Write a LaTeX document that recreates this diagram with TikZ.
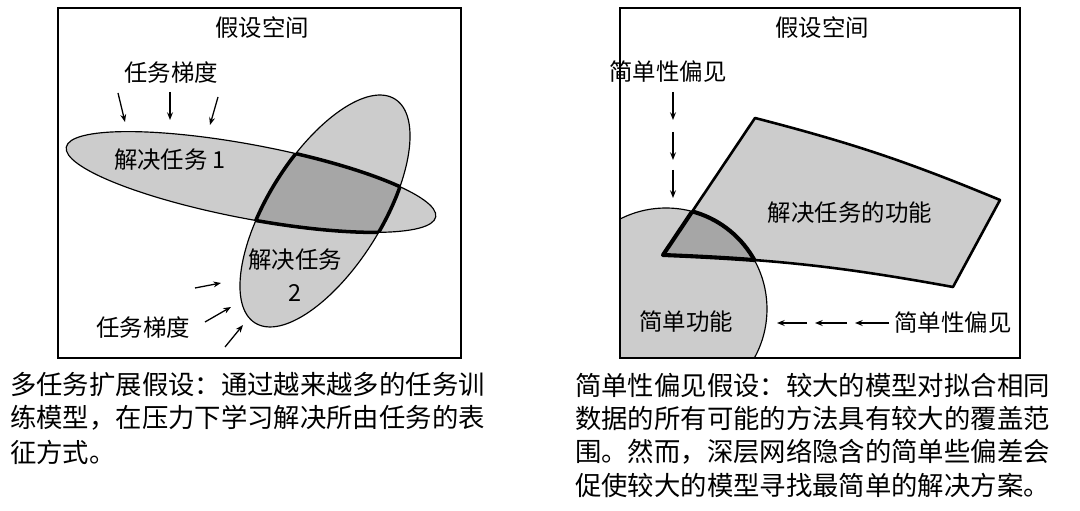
\documentclass[tikz,border=0pt]{standalone}
\usepackage{fontspec}
\setmainfont{Noto Sans CJK SC}
\usetikzlibrary{arrows.meta}
\begin{document}
\begin{tikzpicture}[x=0.03cm,y=0.03cm,
  lbl/.style={font=\fontsize{20}{24}\selectfont,inner sep=0pt},
  captxt/.style={font=\fontsize{22.5}{27}\selectfont,inner sep=0pt,anchor=west},
  arr/.style={-{Stealth[length=6.5pt,width=5pt]},line width=1.1pt},
  frame/.style={draw,line width=1.2pt}]
\useasboundingbox (0,0) rectangle (1080,511);
\def\ellA{(251,329) ellipse [x radius=188,y radius=37,rotate=-10.7]}
\def\ellB{(325,300) ellipse [x radius=132,y radius=57,rotate=58]}
\def\polyP{(755,393) to[bend left=4] (1000,311) -- (953,224) to[bend right=4] (663,256) -- cycle}
\def\circP{(666,202) circle [radius=101]}
% left panel
\draw[frame] (58,153) rectangle (461,503);
\node[lbl] (t1) at (262,483) {假设空间};
\fill[gray!40] \ellA;
\fill[gray!40] \ellB;
\begin{scope}\clip \ellA; \fill[gray!70] \ellB; \end{scope}
\draw[line width=1pt] \ellA;
\draw[line width=1pt] \ellB;
\begin{scope}\clip \ellA; \draw[line width=3pt] \ellB; \end{scope}
\begin{scope}\clip \ellB; \draw[line width=3pt] \ellA; \end{scope}
\node[lbl] (g1) at (171,438) {任务梯度};
\coordinate (a1s) at (118,418); \coordinate (a1e) at (125,389);
\coordinate (a2s) at (170,419); \coordinate (a2e) at (170,391);
\coordinate (a3s) at (218,414); \coordinate (a3e) at (210,386);
\draw[arr] (a1s) -- (a1e); \draw[arr] (a2s) -- (a2e); \draw[arr] (a3s) -- (a3e);
\node[lbl] (s1) at (170,351) {解决任务 1};
\node[lbl] (s2) at (295,251) {解决任务};
\node[lbl] (s2b) at (295,218) {2};
\node[lbl] (g2) at (143,183) {任务梯度};
\coordinate (b1s) at (195,223); \coordinate (b1e) at (221,228);
\coordinate (b2s) at (205,189); \coordinate (b2e) at (231,204);
\coordinate (b3s) at (225,164); \coordinate (b3e) at (243,186);
\draw[arr] (b1s) -- (b1e); \draw[arr] (b2s) -- (b2e); \draw[arr] (b3s) -- (b3e);
% right panel
\begin{scope}
\clip (620,153) rectangle (1020,503);
\fill[gray!40] \circP;
\draw[line width=1pt] \circP;
\end{scope}
\fill[gray!40] \polyP;
\begin{scope}\clip \circP; \fill[gray!70] \polyP; \end{scope}
\draw[line width=2.2pt,line join=round] \polyP;
\begin{scope}\clip \circP; \draw[line width=3.5pt,line join=round] \polyP; \end{scope}
\begin{scope}\clip \polyP; \draw[line width=3.5pt] \circP; \end{scope}
\draw[frame] (620,153) rectangle (1020,503);
\node[lbl] (t2) at (822,483) {假设空间};
\node[lbl] (sb1) at (668,439) {简单性偏见};
\coordinate (c1s) at (673,419); \coordinate (c1e) at (673,391);
\coordinate (c2s) at (673,379); \coordinate (c2e) at (673,351);
\coordinate (c3s) at (673,341); \coordinate (c3e) at (673,313);
\draw[arr] (c1s) -- (c1e); \draw[arr] (c2s) -- (c2e); \draw[arr] (c3s) -- (c3e);
\node[lbl] (sf) at (850,298) {解决任务的功能};
\node[lbl] (sp) at (686,189) {简单功能};
\node[lbl] (sb2) at (953,188) {简单性偏见};
\coordinate (d1s) at (807,188); \coordinate (d1e) at (777,188);
\coordinate (d2s) at (847,188); \coordinate (d2e) at (815,188);
\coordinate (d3s) at (889,188); \coordinate (d3e) at (855,188);
\draw[arr] (d1s) -- (d1e); \draw[arr] (d2s) -- (d2e); \draw[arr] (d3s) -- (d3e);
% captions
\node[captxt] (l1) at (10,126) {多任务扩展假设：通过越来越多的任务训};
\node[captxt] (l2) at (10,93) {练模型，在压力下学习解决所由任务的表};
\node[captxt] (l3) at (10,59) {征方式。};
\node[captxt] (r1) at (575,126) {简单性偏见假设：较大的模型对拟合相同};
\node[captxt] (r2) at (575,93) {数据的所有可能的方法具有较大的覆盖范};
\node[captxt] (r3) at (575,59) {围。然而，深层网络隐含的简单些偏差会};
\node[captxt] (r4) at (575,26) {促使较大的模型寻找最简单的解决方案。};
\end{tikzpicture}
\end{document}
